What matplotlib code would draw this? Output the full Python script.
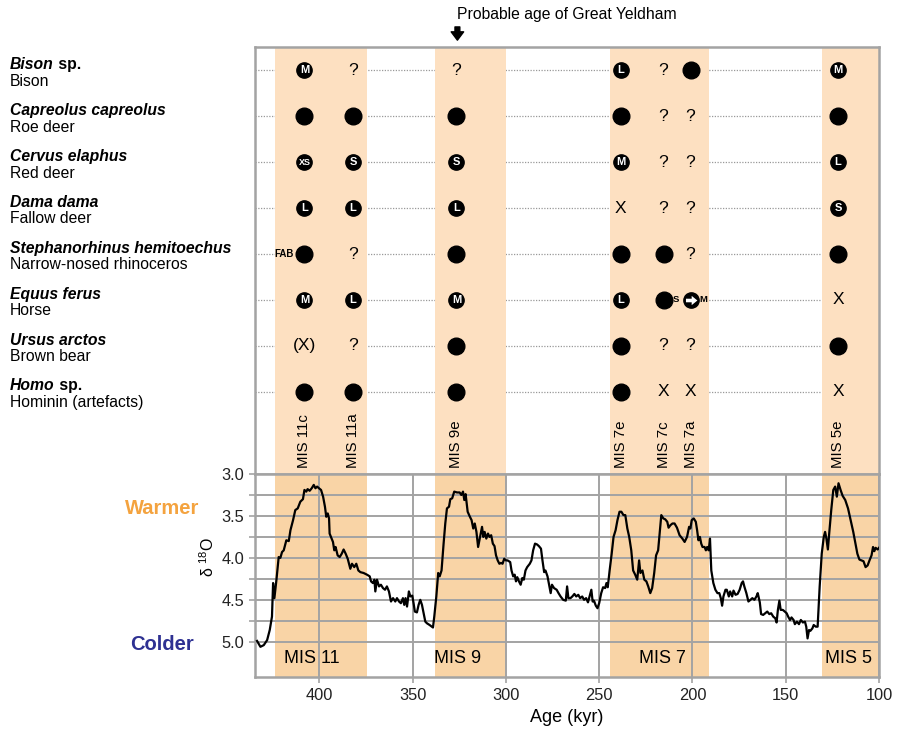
import matplotlib
matplotlib.use('Agg')
import matplotlib.pyplot as plt
import matplotlib.transforms as mtransforms
from matplotlib.path import Path
import numpy as np

plt.rcParams['font.family'] = ['Liberation Sans', 'DejaVu Sans']
plt.rcParams['mathtext.fontset'] = 'custom'
plt.rcParams['mathtext.rm'] = 'Liberation Sans'
plt.rcParams['mathtext.it'] = 'Liberation Sans:italic'
plt.rcParams['mathtext.bf'] = 'Liberation Sans:bold'

# ---------------- data ----------------
taxa_latin = ['Bison', 'Capreolus capreolus', 'Cervus elaphus', 'Dama dama',
              'Stephanorhinus hemitoechus', 'Equus ferus', 'Ursus arctos', 'Homo']
taxa_suffix = [' sp.', '', '', '', '', '', '', ' sp.']
taxa_common = ['Bison', 'Roe deer', 'Red deer', 'Fallow deer',
               'Narrow-nosed rhinoceros', 'Horse', 'Brown bear', 'Hominin (artefacts)']

substages = ['MIS 11c', 'MIS 11a', 'MIS 9e', 'MIS 7e', 'MIS 7c', 'MIS 7a', 'MIS 5e']
substage_age = [408, 382, 326.5, 238.5, 215.5, 201, 122]

# 'o' present, letters = size class, '?' uncertain, 'X' absent
occurrence = [
    ['M',   '?', '?', 'L', '?', 'o',   'M'],
    ['o',   'o', 'o', 'o', '?', '?',   'o'],
    ['XS',  'S', 'S', 'M', '?', '?',   'L'],
    ['L',   'L', 'L', 'X', '?', '?',   'S'],
    ['FAB', '?', 'o', 'o', 'o', '?',   'o'],
    ['M',   'L', 'M', 'L', 'o', 'S>M', 'X'],
    ['(X)', '?', 'o', 'o', '?', '?',   'o'],
    ['o',   'o', 'o', 'o', 'X', 'X',   'X'],
]

stage_names = ['MIS 11', 'MIS 9', 'MIS 7', 'MIS 5']
stage_start = [424, 338, 244, 130.5]
stage_end = [374.5, 300, 191, 100]
stage_label_age = [404, 326, 216, 116.5]

yeldham_age = 326

age_kyr = [433.4, 431.6, 429.8, 428.0, 426.6, 425.4, 424.8, 424.1, 423.0, 421.8,
           420.9, 420.0, 419.1, 417.7, 416.4, 415.5, 414.1, 412.9, 411.6, 410.2,
           408.8, 408.0, 407.0, 406.3, 405.2, 404.1, 403.0, 402.1, 401.2, 400.2,
           399.1, 398.0, 397.0, 396.3, 395.5, 394.8, 394.5, 393.8, 392.7, 392.0,
           391.3, 390.2, 389.1, 388.0, 387.0, 385.9, 384.8, 383.4, 382.5, 381.3,
           380.2, 379.1, 378.0, 376.3, 374.5, 373.0, 372.3, 371.3, 370.5, 370.0,
           369.1, 368.0, 367.0, 365.9, 364.8, 363.8, 362.7, 361.6, 360.5, 359.3,
           358.4, 357.3, 356.3, 355.2, 354.5, 353.8, 353.0, 352.0, 351.2, 350.2,
           349.5, 348.8, 347.7, 346.8, 345.9, 345.0, 344.1, 343.2, 342.3, 340.9,
           339.1, 338.4, 337.3, 336.3, 335.5, 334.5, 333.4, 332.5, 331.6, 330.5,
           329.8, 328.8, 327.7, 326.2, 324.8, 323.9, 323.0, 322.3, 321.6, 320.5,
           319.3, 318.4, 317.5, 316.7, 315.8, 314.9, 314.0, 312.8, 312.1, 311.4,
           310.5, 309.6, 308.8, 307.9, 307.0, 306.1, 305.3, 304.4, 303.5, 302.6,
           301.8, 300.9, 300.0, 299.1, 297.7, 297.0, 296.1, 295.3, 294.6, 293.9,
           293.0, 292.1, 291.2, 290.4, 289.5, 288.6, 287.2, 286.3, 285.4, 284.4,
           283.3, 282.3, 281.2, 280.4, 279.5, 278.8, 277.7, 277.0, 276.0, 275.3,
           274.2, 272.8, 271.8, 270.7, 269.3, 267.9, 267.2, 266.5, 265.4, 264.4,
           263.3, 262.3, 261.2, 260.2, 259.1, 258.1, 257.0, 256.0, 254.9, 254.2,
           253.5, 252.8, 251.8, 250.9, 250.0, 248.9, 247.9, 246.8, 246.1, 245.4,
           244.4, 243.3, 242.3, 241.2, 240.2, 239.1, 238.1, 237.0, 236.0, 234.9,
           233.9, 232.8, 231.8, 230.7, 229.6, 228.6, 227.9, 226.8, 225.8, 224.7,
           223.7, 222.6, 221.6, 220.5, 219.5, 218.4, 217.4, 216.7, 215.6, 214.6,
           213.5, 212.8, 211.8, 210.7, 209.6, 208.3, 206.9, 205.4, 204.2, 202.9,
           201.8, 201.1, 200.4, 199.3, 198.2, 197.5, 196.8, 196.0, 195.3, 194.6,
           193.5, 192.8, 192.1, 191.3, 190.6, 189.9, 188.8, 187.7, 186.6, 185.6,
           184.8, 184.1, 183.4, 182.3, 181.6, 180.5, 179.8, 178.7, 178.0, 176.9,
           175.8, 174.7, 173.6, 172.9, 172.2, 171.1, 170.0, 168.9, 167.9, 166.8,
           165.7, 165.0, 163.9, 163.2, 162.1, 161.0, 159.9, 158.8, 157.8, 156.7,
           155.6, 154.9, 154.2, 153.4, 152.7, 151.6, 150.5, 149.5, 148.7, 147.7,
           146.9, 145.8, 145.1, 144.0, 142.9, 141.9, 140.8, 139.7, 139.0, 138.3,
           137.5, 136.8, 135.7, 135.0, 133.9, 132.9, 131.8, 130.7, 129.6, 128.9,
           128.2, 127.4, 126.7, 125.6, 124.5, 123.5, 122.6, 121.7, 120.6, 119.5,
           118.1, 116.6, 115.2, 113.8, 112.6, 111.6, 110.5, 109.4, 108.3, 107.2,
           106.1, 105.1, 104.0, 103.2, 102.5, 101.8, 100.7, 100.0]

d18o = [4.99, 5.06, 5.04, 4.98, 4.86, 4.70, 4.30, 4.48, 4.26, 3.99,
        4.00, 3.93, 3.91, 3.79, 3.80, 3.67, 3.55, 3.43, 3.41, 3.33,
        3.30, 3.19, 3.21, 3.18, 3.20, 3.17, 3.13, 3.17, 3.15, 3.17,
        3.19, 3.27, 3.39, 3.51, 3.47, 3.53, 3.71, 3.75, 3.81, 3.91,
        3.87, 3.97, 3.99, 3.95, 3.90, 3.95, 4.01, 4.13, 4.07, 4.11,
        4.07, 4.15, 4.17, 4.18, 4.20, 4.22, 4.28, 4.30, 4.26, 4.40,
        4.26, 4.34, 4.32, 4.36, 4.38, 4.34, 4.40, 4.52, 4.48, 4.52,
        4.48, 4.52, 4.54, 4.48, 4.56, 4.48, 4.58, 4.40, 4.46, 4.45,
        4.54, 4.64, 4.65, 4.56, 4.50, 4.56, 4.66, 4.76, 4.78, 4.80,
        4.83, 4.70, 4.46, 4.18, 4.22, 4.15, 3.83, 3.59, 3.41, 3.39,
        3.30, 3.29, 3.21, 3.22, 3.22, 3.25, 3.21, 3.31, 3.24, 3.45,
        3.51, 3.55, 3.65, 3.59, 3.69, 3.87, 3.77, 3.63, 3.75, 3.69,
        3.77, 3.71, 3.75, 3.73, 3.83, 3.86, 3.97, 4.03, 4.07, 4.06,
        4.07, 4.01, 4.03, 4.03, 4.05, 4.15, 4.22, 4.20, 4.28, 4.23,
        4.28, 4.32, 4.24, 4.26, 4.15, 4.11, 4.07, 4.03, 3.91, 3.83,
        3.84, 3.86, 3.89, 4.03, 4.17, 4.15, 4.22, 4.30, 4.42, 4.32,
        4.36, 4.38, 4.42, 4.46, 4.50, 4.51, 4.34, 4.48, 4.48, 4.46,
        4.43, 4.46, 4.44, 4.48, 4.46, 4.50, 4.48, 4.53, 4.44, 4.38,
        4.52, 4.51, 4.57, 4.60, 4.54, 4.42, 4.35, 4.36, 4.30, 4.35,
        4.15, 3.95, 3.75, 3.67, 3.55, 3.45, 3.45, 3.49, 3.49, 3.65,
        3.75, 3.91, 4.15, 4.20, 4.26, 4.03, 4.18, 4.15, 4.26, 4.28,
        4.34, 4.42, 4.36, 4.18, 3.97, 3.91, 3.67, 3.49, 3.53, 3.54,
        3.57, 3.64, 3.61, 3.59, 3.59, 3.64, 3.73, 3.77, 3.81, 3.75,
        3.63, 3.65, 3.55, 3.53, 3.57, 3.67, 3.79, 3.75, 3.83, 3.87,
        3.87, 3.91, 3.87, 3.91, 3.77, 4.15, 4.30, 4.38, 4.42, 4.42,
        4.48, 4.57, 4.46, 4.38, 4.38, 4.46, 4.40, 4.46, 4.39, 4.44,
        4.43, 4.38, 4.30, 4.28, 4.34, 4.42, 4.52, 4.50, 4.48, 4.50,
        4.46, 4.42, 4.53, 4.67, 4.68, 4.66, 4.64, 4.67, 4.66, 4.70,
        4.72, 4.77, 4.62, 4.51, 4.62, 4.62, 4.64, 4.66, 4.70, 4.74,
        4.71, 4.74, 4.79, 4.76, 4.79, 4.74, 4.77, 4.76, 4.82, 4.96,
        4.86, 4.87, 4.84, 4.80, 4.82, 4.82, 4.34, 3.95, 3.75, 3.69,
        3.77, 3.90, 3.71, 3.43, 3.19, 3.15, 3.27, 3.11, 3.19, 3.26,
        3.31, 3.41, 3.55, 3.69, 3.83, 3.95, 4.02, 4.03, 4.04, 4.11,
        4.09, 4.03, 3.97, 3.87, 3.92, 3.88, 3.90, 3.88]

# ---------------- figure ----------------
W, H = 898, 736
fig = plt.figure(figsize=(W / 100, H / 100), dpi=100)

L, R = 255, 879
ax_top = fig.add_axes([L / W, 1 - 474 / H, (R - L) / W, (474 - 47) / H])
ax_bot = fig.add_axes([L / W, 1 - 677 / H, (R - L) / W, (677 - 474) / H])

XMAX, XMIN = 434.5, 100
band_top = '#FDE0C1'
band_bot = '#F9D4A6'
grey = '#A3A3A3'

# ---------- top panel ----------
n = len(taxa_latin)
ax_top.set_xlim(XMAX, XMIN)
ax_top.set_ylim(8.79, -0.51)
ax_top.set_xticks([])
ax_top.set_yticks([])
for s in ax_top.spines.values():
    s.set_color(grey)
    s.set_linewidth(1.8)

for a0, a1 in zip(stage_start, stage_end):
    ax_top.axvspan(a0, a1, color=band_top, lw=0, zorder=1)

for i in range(n):
    ax_top.axhline(i, color='#999999', lw=0.9, ls=(0, (1, 1.2)), zorder=0.5)

arrow_path = Path([(-0.62, -0.2), (0.02, -0.2), (0.02, -0.52), (0.66, 0.0),
                   (0.02, 0.52), (0.02, 0.2), (-0.62, 0.2), (-0.62, -0.2)],
                  [Path.MOVETO] + [Path.LINETO] * 6 + [Path.CLOSEPOLY])

for i, row in enumerate(occurrence):
    for j, code in enumerate(row):
        x = substage_age[j]
        if code == 'o':
            ax_top.plot(x, i, 'o', color='black', ms=12, zorder=3)
        elif code == 'FAB':
            ax_top.plot(x, i, 'o', color='black', ms=12, zorder=3)
            ax_top.annotate('FAB', xy=(x, i), xytext=(-7.5, 0), textcoords='offset points',
                            ha='right', va='center', fontsize=7, fontweight='bold', zorder=4)
        elif code in ('M', 'L', 'S', 'XS'):
            ax_top.plot(x, i, 'o', color='black', ms=11, zorder=3)
            ax_top.text(x, i, code, ha='center', va='center', color='white',
                        fontsize=8 if code != 'XS' else 6.5, fontweight='bold', zorder=4)
        elif code == 'S>M':
            ax_top.plot(x, i, 'o', color='black', ms=11, zorder=3)
            ax_top.plot(x, i, marker=arrow_path, color='white', ms=8.5, mew=0, zorder=4)
            ax_top.annotate('S', xy=(x, i), xytext=(-10.5, 0), textcoords='offset points',
                            ha='center', va='center', fontsize=6.8, fontweight='bold', zorder=4)
            ax_top.annotate('M', xy=(x, i), xytext=(9.5, 0), textcoords='offset points',
                            ha='center', va='center', fontsize=6.8, fontweight='bold', zorder=4)
        else:
            ax_top.text(x, i, code, ha='center', va='center', fontsize=12.5, zorder=4)

blend_top = mtransforms.blended_transform_factory(ax_top.transData, ax_top.transAxes)
for name, age in zip(substages, substage_age):
    ax_top.text(age, 0.014, name, transform=blend_top, rotation=90, ha='center',
                va='bottom', fontsize=10.8, zorder=4)

fig_blend = mtransforms.blended_transform_factory(fig.transFigure, ax_top.transData)
for i in range(n):
    t = ax_top.annotate(taxa_latin[i], xy=(10 / W, i), xycoords=fig_blend,
                        xytext=(0, 1), textcoords='offset points', ha='left', va='baseline',
                        fontsize=11.3, fontweight='bold', fontstyle='italic',
                        annotation_clip=False)
    if taxa_suffix[i]:
        ax_top.annotate(taxa_suffix[i], xy=(1, 0), xycoords=t, ha='left', va='bottom',
                        fontsize=11.3, fontweight='bold', annotation_clip=False)
    ax_top.annotate(taxa_common[i], xy=(10 / W, i), xycoords=fig_blend,
                    xytext=(0, -11), textcoords='offset points', ha='left', va='baseline',
                    fontsize=11.3, annotation_clip=False)

# Great Yeldham arrow + title
ax_top.annotate('', xy=(yeldham_age, 1.016), xycoords=blend_top,
                xytext=(yeldham_age, 1.047), textcoords=blend_top,
                arrowprops=dict(arrowstyle='simple,head_width=0.9,head_length=0.6,tail_width=0.35',
                                color='black', shrinkA=0, shrinkB=0),
                annotation_clip=False)
ax_top.text(yeldham_age, 1.076, 'Probable age of Great Yeldham', transform=blend_top,
            ha='left', va='center', fontsize=11.3)

# ---------- bottom panel ----------
ax_bot.set_xlim(XMAX, XMIN)
ax_bot.set_ylim(5.42, 3.0)
for a0, a1 in zip(stage_start, stage_end):
    ax_bot.axvspan(a0, a1, color=band_bot, lw=0, zorder=0)

ax_bot.set_xticks([400, 350, 300, 250, 200, 150, 100])
ax_bot.set_yticks([3.0, 3.5, 4.0, 4.5, 5.0])
ax_bot.set_yticks([3.25, 3.75, 4.25, 4.75], minor=True)
ax_bot.set_yticklabels(['3.0', '3.5', '4.0', '4.5', '5.0'])
ax_bot.grid(True, which='major', axis='both', color=grey, lw=1.4, zorder=1)
ax_bot.grid(True, which='minor', axis='y', color=grey, lw=1.4, zorder=1)
ax_bot.set_axisbelow(False)
ax_bot.tick_params(axis='both', which='both', length=4, width=1.2, color=grey,
                   labelsize=11.8, labelcolor='#222222', pad=4)
for s in ax_bot.spines.values():
    s.set_color(grey)
    s.set_linewidth(1.8)

ax_bot.plot(age_kyr, d18o, color='black', lw=1.6, zorder=3)

for name, x in zip(stage_names, stage_label_age):
    ax_bot.text(x, 5.2, name, ha='center', va='center', fontsize=13, zorder=4)

ax_bot.set_xlabel('Age (kyr)', fontsize=13, labelpad=4)
fig.text(208 / W, 1 - 557 / H, r'δ $^{18}$O', rotation=90, ha='center', va='center',
         fontsize=11.5)
fig.text(162 / W, 1 - 508 / H, 'Warmer', color='#F4A33F', fontsize=14.5,
         fontweight='bold', ha='center', va='center')
fig.text(162 / W, 1 - 645 / H, 'Colder', color='#2E3192', fontsize=14.5,
         fontweight='bold', ha='center', va='center')

fig.savefig('out.png', dpi=100)
